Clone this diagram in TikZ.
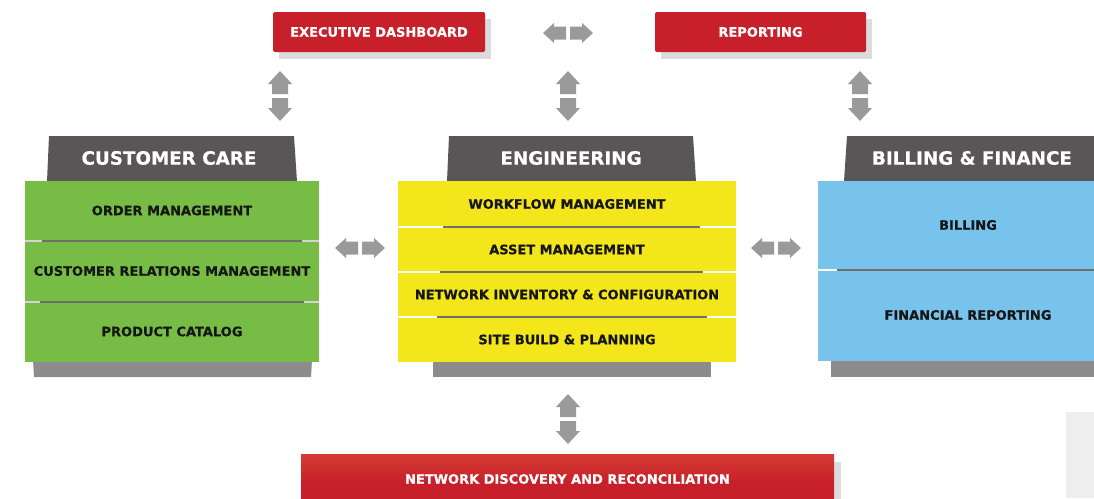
\documentclass[tikz,border=0pt]{standalone}
\usepackage{fontspec}
\setmainfont{DejaVu Sans}[BoldFeatures={FakeBold=0.5}]
\definecolor{boxred}{HTML}{C8202A}
\definecolor{boxredtop}{HTML}{D43C33}
\definecolor{headgray}{HTML}{5A5657}
\definecolor{basegray}{HTML}{8C8C8C}
\definecolor{cgreen}{HTML}{77BC44}
\definecolor{cyellow}{HTML}{F3E61B}
\definecolor{cblue}{HTML}{77C3EC}
\definecolor{arrowgray}{HTML}{9A9A9A}
\definecolor{shadowgray}{HTML}{DCDCDC}
\definecolor{divdark}{HTML}{6E6E6E}
\definecolor{divlight}{HTML}{D4D4D4}
\definecolor{txtdark}{HTML}{161616}
\definecolor{pale}{HTML}{EEEEEE}
\tikzset{
  redbox/.style={fill=boxred, rounded corners=1.5pt, inner sep=0pt, text=white,
    font=\fontsize{13}{15}\selectfont\bfseries},
  rowbox/.style={inner sep=0pt, text=txtdark, font=\fontsize{13}{15}\selectfont\bfseries},
  headtext/.style={inner sep=0pt, text=white, font=\fontsize{18.3}{20}\selectfont\bfseries},
  vpair/.pic={
    \fill[arrowgray] (0,-25)--(12,-12)--(8,-12)--(8,-2)--(-8,-2)--(-8,-12)--(-12,-12)--cycle;
    \fill[arrowgray] (0,25)--(12,12)--(8,12)--(8,2)--(-8,2)--(-8,12)--(-12,12)--cycle;
  },
  hpair/.pic={
    \fill[arrowgray] (-25,0)--(-14,-10)--(-14,-6.5)--(-2,-6.5)--(-2,6.5)--(-14,6.5)--(-14,10)--cycle;
    \fill[arrowgray] (25,0)--(14,-10)--(14,-6.5)--(2,-6.5)--(2,6.5)--(14,6.5)--(14,10)--cycle;
  }
}
\begin{document}
\begin{tikzpicture}[x=1pt,y=-1pt]
\clip (0,0) rectangle (1094,498);
\fill[white] (0,0) rectangle (1094,498);

% pale rectangle bottom right
\fill[pale] (1066,412) rectangle (1094,498);

% ---- top red boxes
\fill[shadowgray] (279,19) rectangle (491,59);
\node[redbox, minimum width=212pt, minimum height=40pt] (exec) at (379,32) {EXECUTIVE DASHBOARD};
\fill[shadowgray] (661,19) rectangle (872,59);
\node[redbox, minimum width=211pt, minimum height=40pt] (rep) at (760.5,32) {REPORTING};

% ---- arrows
\pic at (568,33) {hpair};
\pic at (280,96) {vpair};
\pic at (568,96) {vpair};
\pic at (860,96) {vpair};
\pic at (360,248) {hpair};
\pic at (776,248) {hpair};
\pic at (568,419) {vpair};

% ---- CUSTOMER CARE
\fill[headgray] (49,136)--(294,136)--(297,181.5)--(47,181.5)--cycle;
\node[headtext] (cchead) at (169,158) {CUSTOMER CARE};
\fill[basegray] (33,360)--(312,360)--(311,377)--(34,377)--cycle;
\node[rowbox, fill=cgreen, minimum width=294pt, minimum height=60pt] (om) at (172,210.5) {ORDER MANAGEMENT};
\node[rowbox, fill=cgreen, minimum width=294pt, minimum height=61pt] (crm) at (172,271) {CUSTOMER RELATIONS MANAGEMENT};
\node[rowbox, fill=cgreen, minimum width=294pt, minimum height=60pt] (pc) at (172,331.5) {PRODUCT CATALOG};
\draw[divlight, line width=2pt] (25,240.5) -- (319,240.5);
\draw[divdark, line width=2pt] (42,240.5) -- (302,240.5);
\draw[divlight, line width=2pt] (25,301.5) -- (319,301.5);
\draw[divdark, line width=2pt] (40,301.5) -- (304,301.5);

% ---- ENGINEERING
\fill[headgray] (449,136)--(693,136)--(696,181.5)--(447,181.5)--cycle;
\node[headtext] (enghead) at (571,158) {ENGINEERING};
\fill[basegray] (433,361)--(711,361)--(711,377)--(433,377)--cycle;
\node[rowbox, fill=cyellow, minimum width=338pt, minimum height=46pt] (wf) at (567,204) {WORKFLOW MANAGEMENT};
\node[rowbox, fill=cyellow, minimum width=338pt, minimum height=45pt] (am) at (567,249.5) {ASSET MANAGEMENT};
\node[rowbox, fill=cyellow, minimum width=338pt, minimum height=45pt] (ni) at (567,294.5) {NETWORK INVENTORY \& CONFIGURATION};
\node[rowbox, fill=cyellow, minimum width=338pt, minimum height=45pt] (sb) at (567,339.5) {SITE BUILD \& PLANNING};
\draw[white, line width=2pt] (398,227) -- (736,227);
\draw[divdark, line width=2.5pt] (443,227) -- (700,227);
\draw[white, line width=2pt] (398,272) -- (736,272);
\draw[divdark, line width=2.5pt] (440,272) -- (703,272);
\draw[white, line width=2pt] (398,317) -- (736,317);
\draw[divdark, line width=2.5pt] (437,317) -- (707,317);

% ---- BILLING & FINANCE
\fill[headgray] (847,136)--(1100,136)--(1100,181.5)--(844,181.5)--cycle;
\node[headtext] (bfhead) at (972,158) {BILLING \& FINANCE};
\fill[basegray] (831,360)--(1100,360)--(1100,377)--(831,377)--cycle;
\node[rowbox, fill=cblue, minimum width=300pt, minimum height=88pt] (bill) at (968,225) {BILLING};
\node[rowbox, fill=cblue, minimum width=300pt, minimum height=92pt] (fr) at (968,315) {FINANCIAL REPORTING};
\draw[white, line width=2pt] (818,269.5) -- (837,269.5);
\draw[divdark, line width=2pt] (837,269.5) -- (1100,269.5);

% ---- bottom red box
\fill[shadowgray] (834,462) rectangle (841,510);
\shade[top color=boxredtop, bottom color=boxred, middle color=boxred] (301,454) rectangle (834,510);
\node[inner sep=0pt, text=white, font=\fontsize{13}{15}\selectfont\bfseries] (ndr) at (567.5,479) {NETWORK DISCOVERY AND RECONCILIATION};
\end{tikzpicture}
\end{document}
